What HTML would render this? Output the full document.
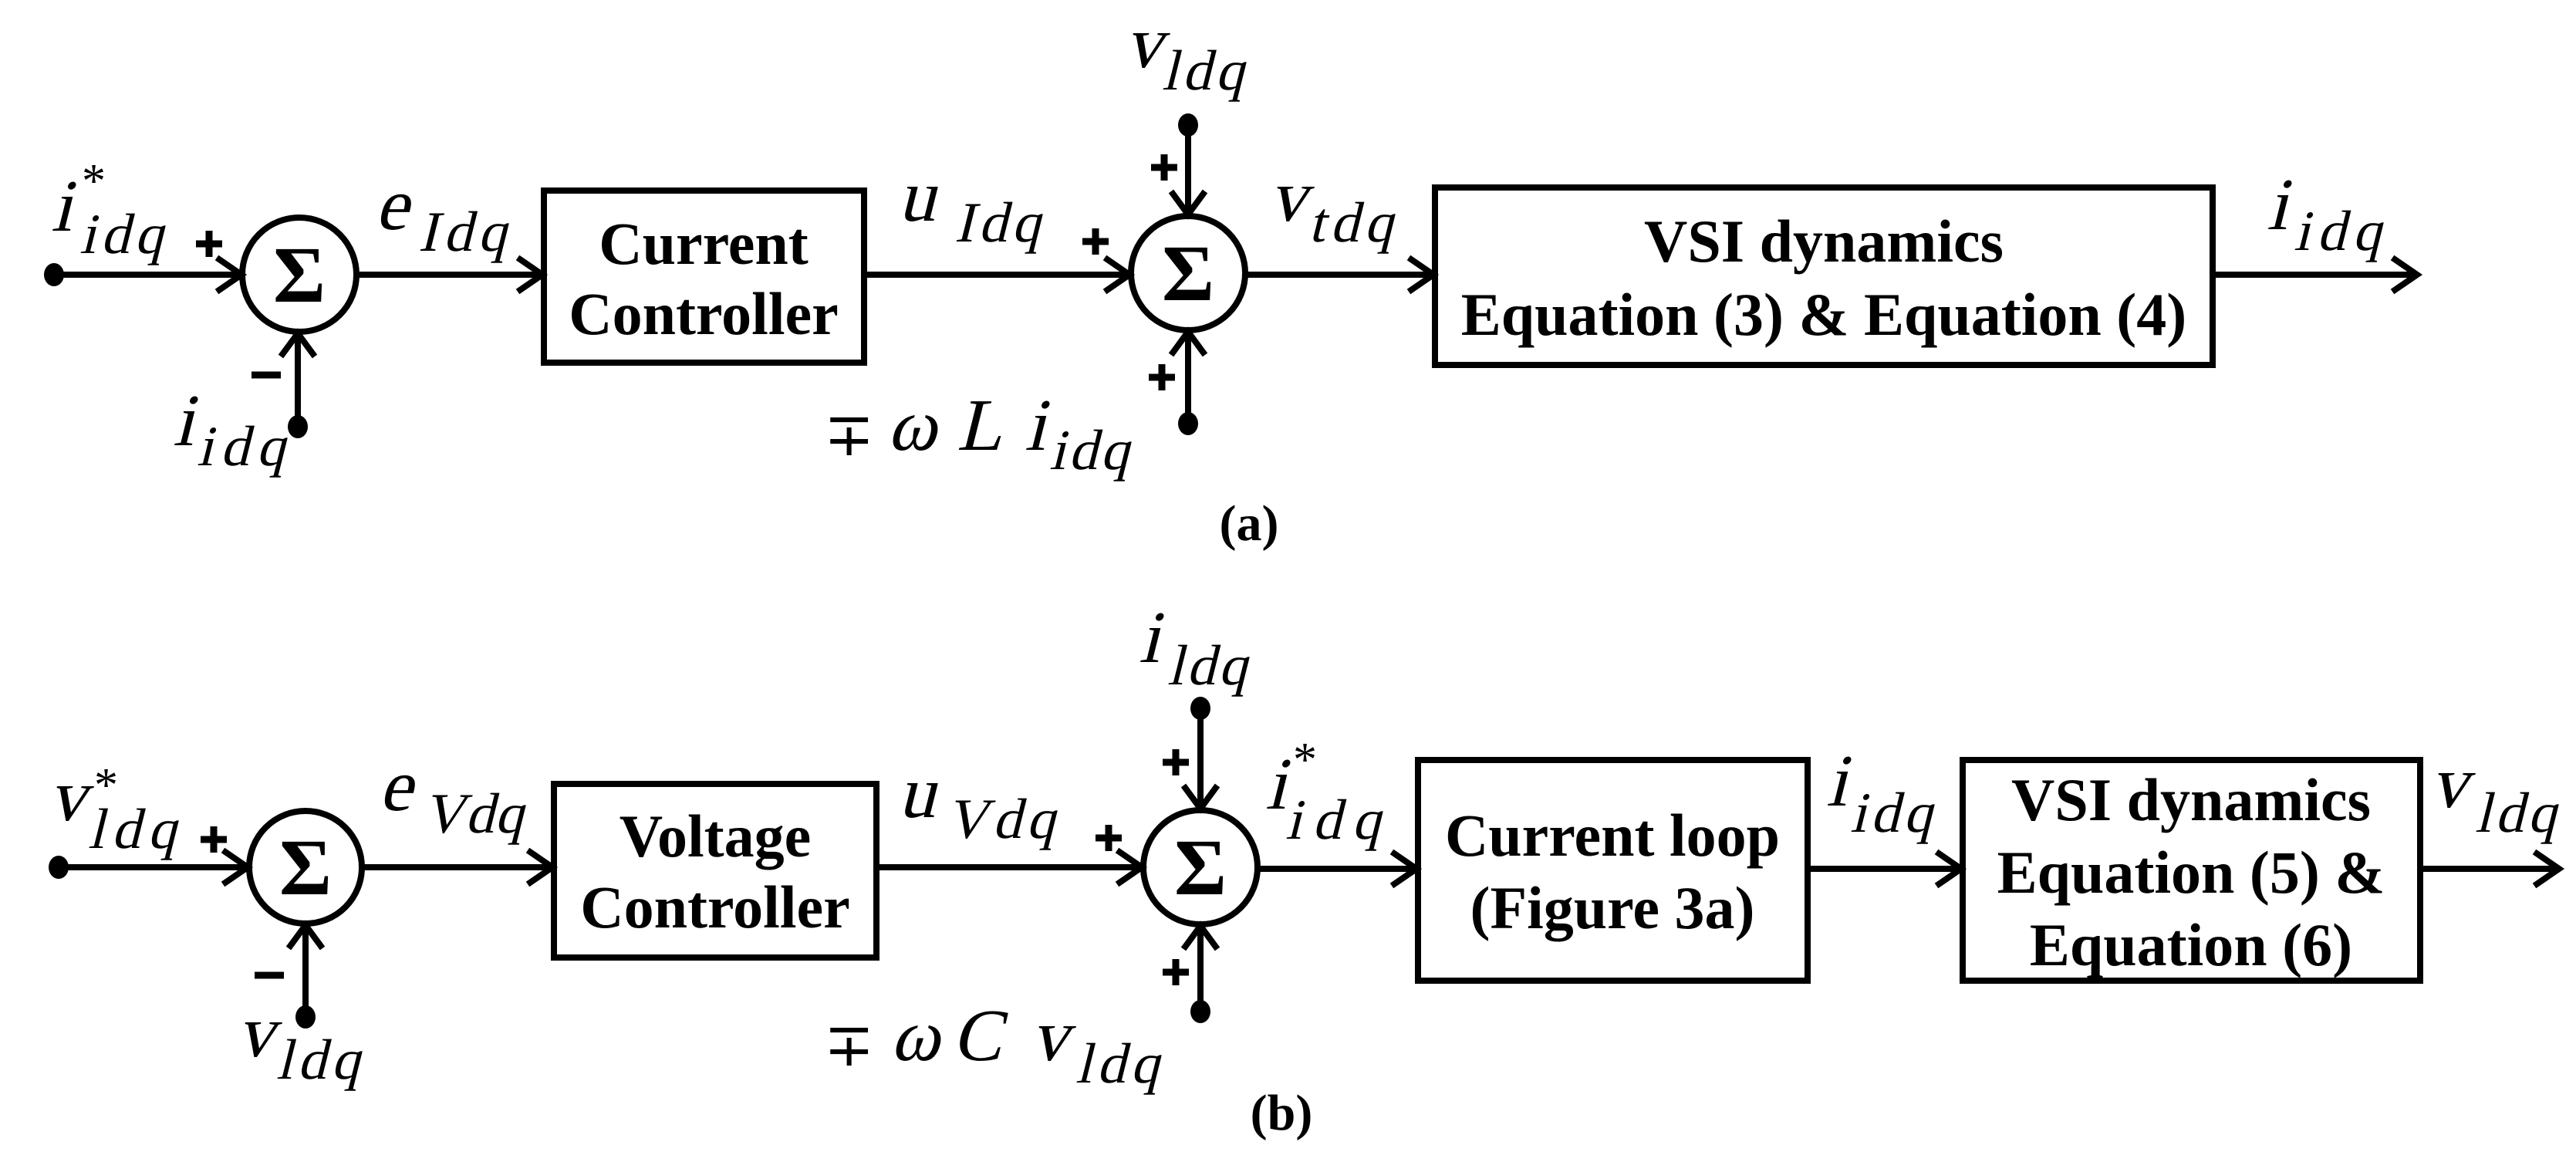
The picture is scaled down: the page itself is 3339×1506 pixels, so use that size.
<!DOCTYPE html>
<html><head><meta charset="utf-8"><style>
html,body{margin:0;padding:0;background:#fff}
svg{display:block}
.b{font-family:"Liberation Serif",serif;font-weight:bold;font-size:78px;text-anchor:middle}
.m{font-family:"Liberation Serif","DejaVu Serif",serif;font-weight:normal;font-size:96px}
.s{font-family:"Liberation Serif","DejaVu Serif",serif;font-weight:normal;font-size:74px}
.st{font-family:"Liberation Serif","DejaVu Serif",serif;font-size:62px}
.sg{font-family:"Liberation Serif",serif;font-weight:bold;font-size:104px;text-anchor:middle}
.cap{font-family:"Liberation Serif",serif;font-weight:bold;font-size:66px;text-anchor:middle}
</style></head><body>
<svg width="3339" height="1506" viewBox="0 0 3339 1506" xmlns="http://www.w3.org/2000/svg">
<g stroke="#000" stroke-width="8" fill="none">
<line x1="70" y1="356" x2="311" y2="356"/><polyline points="281,334 313,356 281,378"/>
<circle cx="388" cy="356" r="74"/>
<line x1="386" y1="553" x2="386" y2="434"/><polyline points="364,462 386,432 408,462"/>
<line x1="462" y1="356" x2="701" y2="356"/><polyline points="671,334 703,356 671,378"/>
<rect x="705" y="247" width="415" height="223"/>
<line x1="1120" y1="356" x2="1462" y2="356"/><polyline points="1432,334 1464,356 1432,378"/>
<circle cx="1540" cy="354" r="74"/>
<line x1="1540" y1="162" x2="1540" y2="276"/><polyline points="1518,248 1540,278 1562,248"/>
<line x1="1540" y1="549" x2="1540" y2="432"/><polyline points="1518,460 1540,430 1562,460"/>
<line x1="1614" y1="356" x2="1856" y2="356"/><polyline points="1826,334 1858,356 1826,378"/>
<rect x="1860" y="243" width="1008" height="230"/>
<line x1="2868" y1="356" x2="3131" y2="356"/><polyline points="3101,334 3133,356 3101,378"/>
<line x1="76" y1="1124" x2="319" y2="1124"/><polyline points="289,1102 321,1124 289,1146"/>
<circle cx="396" cy="1124" r="73"/>
<line x1="396" y1="1318" x2="396" y2="1201"/><polyline points="374,1229 396,1199 418,1229"/>
<line x1="469" y1="1124" x2="714" y2="1124"/><polyline points="684,1102 716,1124 684,1146"/>
<rect x="718" y="1016" width="418" height="225"/>
<line x1="1136" y1="1124" x2="1478" y2="1124"/><polyline points="1448,1102 1480,1124 1448,1146"/>
<circle cx="1556" cy="1124" r="74"/>
<line x1="1556" y1="918" x2="1556" y2="1046"/><polyline points="1534,1018 1556,1048 1578,1018"/>
<line x1="1556" y1="1311" x2="1556" y2="1202"/><polyline points="1534,1230 1556,1200 1578,1230"/>
<line x1="1630" y1="1126" x2="1834" y2="1126"/><polyline points="1804,1104 1836,1126 1804,1148"/>
<rect x="1838" y="985" width="505" height="286"/>
<line x1="2343" y1="1126" x2="2540" y2="1126"/><polyline points="2510,1104 2542,1126 2510,1148"/>
<rect x="2544" y="985" width="593" height="286"/>
<line x1="3137" y1="1126" x2="3315" y2="1126"/><polyline points="3285,1104 3317,1126 3285,1148"/>
</g>
<g fill="#000">
<ellipse cx="70" cy="356" rx="13" ry="15"/>
<ellipse cx="386" cy="553" rx="13" ry="15"/>
<ellipse cx="1540" cy="162" rx="13" ry="15"/>
<ellipse cx="1540" cy="549" rx="13" ry="15"/>
<ellipse cx="76" cy="1124" rx="13" ry="15"/>
<ellipse cx="396" cy="1318" rx="13" ry="15"/>
<ellipse cx="1556" cy="918" rx="13" ry="15"/>
<ellipse cx="1556" cy="1311" rx="13" ry="15"/>
</g>
<g stroke="#000" stroke-width="9">
<path d="M254 316h34M271 299v34"/>
<path d="M326 486h38"/>
<path d="M1403 313h34M1420 296v34"/>
<path d="M1492 217h34M1509 200v34"/>
<path d="M1489 489h34M1506 472v34"/>
<path d="M260 1088h34M277 1071v34"/>
<path d="M330 1264h38"/>
<path d="M1420 1086h34M1437 1069v34"/>
<path d="M1507 988h34M1524 971v34"/>
<path d="M1507 1260h34M1524 1243v34"/>
</g>
<text class="sg" x="388" y="391">Σ</text>
<text class="sg" x="1540" y="389">Σ</text>
<text class="sg" x="396" y="1159">Σ</text>
<text class="sg" x="1556" y="1159">Σ</text>
<text class="b" x="912" y="342">Current</text>
<text class="b" x="912" y="433">Controller</text>
<text class="b" x="2364" y="339">VSI dynamics</text>
<text class="b" x="2364" y="434">Equation (3) &amp; Equation (4)</text>
<text class="b" x="927" y="1110">Voltage</text>
<text class="b" x="927" y="1202">Controller</text>
<text class="b" x="2090" y="1109">Current loop</text>
<text class="b" x="2090" y="1203">(Figure 3a)</text>
<text class="b" x="2840" y="1063">VSI dynamics</text>
<text class="b" x="2840" y="1157">Equation (5) &amp;</text>
<text class="b" x="2840" y="1251">Equation (6)</text>
<text class="cap" x="1619" y="700">(a)</text>
<text class="cap" x="1661" y="1464">(b)</text>
<g transform="translate(66,299) skewX(-14)"><text class="m">i</text></g>
<text class="st" x="106" y="255">*</text>
<g transform="translate(103,328) skewX(-14)"><text class="s" textLength="108" lengthAdjust="spacing">idq</text></g>
<g transform="translate(224,577) skewX(-14)"><text class="m">i</text></g>
<g transform="translate(255,603) skewX(-14)"><text class="s" textLength="114" lengthAdjust="spacing">idq</text></g>
<g transform="translate(486,297) skewX(-14)"><text class="m">e</text></g>
<g transform="translate(542,325) skewX(-14)"><text class="s" textLength="114" lengthAdjust="spacing">Idq</text></g>
<g transform="translate(1164,286) skewX(-14)"><text class="m">u</text></g>
<g transform="translate(1237,313) skewX(-14)"><text class="s" textLength="111" lengthAdjust="spacing">Idq</text></g>
<g transform="translate(1458,87) skewX(-14)"><text class="m">v</text></g>
<g transform="translate(1506,116) skewX(-14)"><text class="s" textLength="106" lengthAdjust="spacing">ldq</text></g>
<g transform="translate(1645,286) skewX(-14)"><text class="m">v</text></g>
<g transform="translate(1696,313) skewX(-14)"><text class="s" textLength="109" lengthAdjust="spacing">tdq</text></g>
<text x="1068" y="590" style="font-family:'DejaVu Serif','Liberation Serif',serif;font-size:78px">∓</text>
<g transform="translate(1150,583) skewX(-14)"><text class="m">ω</text></g>
<g transform="translate(1240,583) skewX(-14)"><text class="m">L</text></g>
<g transform="translate(1328,583) skewX(-14)"><text class="m">i</text></g>
<g transform="translate(1360,608) skewX(-14)"><text class="s" textLength="103" lengthAdjust="spacing">idq</text></g>
<g transform="translate(2938,297) skewX(-14)"><text class="m">i</text></g>
<g transform="translate(2973,324) skewX(-14)"><text class="s" textLength="113" lengthAdjust="spacing">idq</text></g>
<g transform="translate(63,1063) skewX(-14)"><text class="m">v</text></g>
<text class="st" x="122" y="1038">*</text>
<g transform="translate(114,1099) skewX(-14)"><text class="s" textLength="114" lengthAdjust="spacing">ldq</text></g>
<g transform="translate(307,1369) skewX(-14)"><text class="m">v</text></g>
<g transform="translate(358,1398) skewX(-14)"><text class="s" textLength="108" lengthAdjust="spacing">ldq</text></g>
<g transform="translate(491,1050) skewX(-14)"><text class="m">e</text></g>
<g transform="translate(548,1079) skewX(-14)"><text class="s" textLength="130" lengthAdjust="spacing">Vdq</text></g>
<g transform="translate(1164,1059) skewX(-14)"><text class="m">u</text></g>
<g transform="translate(1226,1086) skewX(-14)"><text class="s" textLength="141" lengthAdjust="spacing">Vdq</text></g>
<g transform="translate(1476,858) skewX(-14)"><text class="m">i</text></g>
<g transform="translate(1513,887) skewX(-14)"><text class="s" textLength="103" lengthAdjust="spacing">ldq</text></g>
<text x="1068" y="1381" style="font-family:'DejaVu Serif','Liberation Serif',serif;font-size:78px">∓</text>
<g transform="translate(1154,1374) skewX(-14)"><text class="m">ω</text></g>
<g transform="translate(1234,1374) skewX(-14)"><text class="m">C</text></g>
<g transform="translate(1336,1374) skewX(-14)"><text class="m">v</text></g>
<g transform="translate(1394,1403) skewX(-14)"><text class="s" textLength="108" lengthAdjust="spacing">ldq</text></g>
<g transform="translate(1640,1048) skewX(-14)"><text class="m">i</text></g>
<text class="st" x="1676" y="1005">*</text>
<g transform="translate(1666,1087) skewX(-14)"><text class="s" textLength="123" lengthAdjust="spacing">idq</text></g>
<g transform="translate(2367,1044) skewX(-14)"><text class="m">i</text></g>
<g transform="translate(2398,1078) skewX(-14)"><text class="s" textLength="106" lengthAdjust="spacing">idq</text></g>
<g transform="translate(3150,1046) skewX(-14)"><text class="m">v</text></g>
<g transform="translate(3208,1078) skewX(-14)"><text class="s" textLength="105" lengthAdjust="spacing">ldq</text></g>
</svg>
</body></html>
